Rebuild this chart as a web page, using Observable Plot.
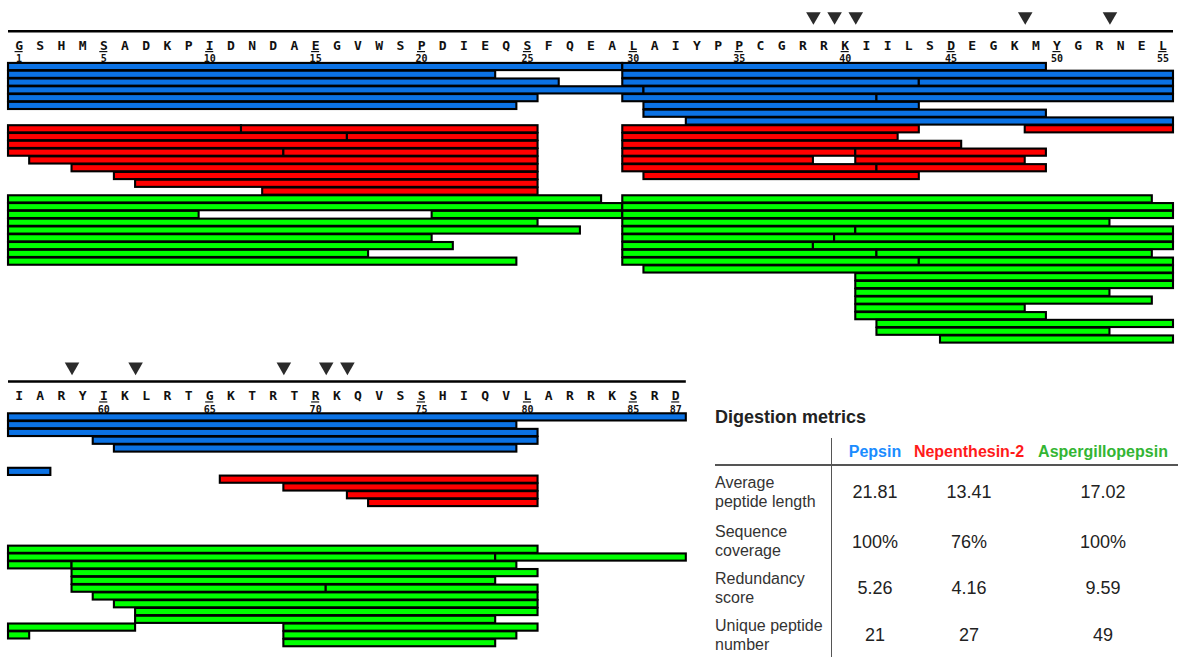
<!DOCTYPE html>
<html>
<head>
<meta charset="utf-8">
<script src="https://cdn.jsdelivr.net/npm/d3@7"></script>
<script src="https://cdn.jsdelivr.net/npm/@observablehq/plot@0.6"></script>
<style>
  body { margin: 0; background: #fff; }
  #wrap { position: relative; width: 1180px; height: 657px; overflow: hidden; background: #fff; }
  #wrap svg { position: absolute; left: 0; top: 0; }
  .t { position: absolute; font-family: "Liberation Sans", Arial, sans-serif; white-space: nowrap; }
  .c { transform: translate(-50%, -50%); }
  .l { transform: translate(0, -50%); }
  .hl { position: absolute; background: #555; }
</style>
</head>
<body>
<div id="wrap"></div>
<script>
// ---------------- data ----------------
const sequence = "GSHMSADKPIDNDAEGVWSPDIEQSFQEALAIYPPCGRRKIILSDEGKMYGRNEL" +
                 "IARYIKLRTGKTRTRKQVSSHIQVLARRKSRD";
const numberedResidues = [1, 5, 10, 15, 20, 25, 30, 35, 40, 45, 50, 55, 60, 65, 70, 75, 80, 85, 87];
const cleavageAfter = [38, 39, 40, 48, 52, 58, 61, 68, 70, 71];

const enzymes = ["Pepsin", "Nepenthesin-2", "Aspergillopepsin"];
const barColors = ["#0b72e4", "#ff0000", "#00ff00"];
const headerColors = ["#1a8cff", "#ff1a1a", "#33b533"];

// [start residue, end residue, row within enzyme block]
const pepsinPeptides = [
  [1, 29, 1], [30, 49, 1], [56, 87, 1],
  [1, 23, 2], [30, 79, 2],
  [1, 26, 3], [30, 43, 3], [44, 80, 3],
  [1, 30, 4], [31, 55, 4], [60, 80, 4],
  [1, 25, 5], [30, 41, 5], [42, 55, 5], [61, 79, 5],
  [1, 24, 6], [31, 43, 6],
  [31, 49, 7],
  [33, 57, 8]
];
const nepenthesinPeptides = [
  [1, 11, 1], [12, 25, 1], [30, 43, 1], [49, 55, 1], [66, 80, 1],
  [1, 16, 2], [17, 25, 2], [30, 42, 2], [69, 80, 2],
  [1, 25, 3], [30, 45, 3], [72, 80, 3],
  [1, 13, 4], [14, 25, 4], [30, 40, 4], [41, 49, 4], [73, 80, 4],
  [2, 25, 5], [30, 38, 5], [41, 48, 5],
  [4, 25, 6], [30, 41, 6], [42, 49, 6],
  [6, 25, 7], [31, 43, 7],
  [7, 25, 8],
  [13, 25, 9]
];
const aspergillopepsinPeptides = [
  [1, 28, 1], [30, 54, 1], [56, 80, 1],
  [1, 29, 2], [30, 78, 2], [79, 87, 2],
  [1, 9, 3], [21, 29, 3], [30, 58, 3], [59, 79, 3],
  [1, 25, 4], [30, 52, 4], [59, 80, 4],
  [1, 27, 5], [30, 40, 5], [41, 55, 5], [59, 78, 5],
  [1, 20, 6], [30, 39, 6], [40, 55, 6], [59, 70, 6], [71, 80, 6],
  [1, 21, 7], [30, 38, 7], [39, 55, 7], [60, 80, 7],
  [1, 17, 8], [30, 41, 8], [42, 54, 8], [61, 80, 8],
  [1, 24, 9], [30, 43, 9], [44, 55, 9], [62, 80, 9],
  [31, 55, 10], [62, 78, 10],
  [41, 61, 11], [69, 80, 11],
  [41, 56, 12], [69, 79, 12],
  [41, 52, 13], [69, 78, 13],
  [41, 54, 14],
  [41, 48, 15],
  [41, 49, 16],
  [42, 55, 17],
  [42, 52, 18],
  [45, 55, 19]
];
const blockRows = [8, 9, 19];

const metricLabels = [["Average", "peptide length"], ["Sequence", "coverage"], ["Redundancy", "score"], ["Unique peptide", "number"]];
const pepsinMetrics = ["21.81", "100%", "5.26", "21"];
const nepenthesinMetrics = ["13.41", "76%", "4.16", "27"];
const aspergillopepsinMetrics = ["17.02", "100%", "9.59", "49"];

// ---------------- layout ----------------
const RES_PER_LINE = 55;
const LINE_ROWS = 45;          // rows between the two sequence lines
const ROW_TRI = -5.5, ROW_RULE = -3.6, ROW_LETTER = -1.72, ROW_UNDER = -0.98, ROW_NUM = 0.0;

const allPeptides = [pepsinPeptides, nepenthesinPeptides, aspergillopepsinPeptides];
const blockStart = [0, blockRows[0], blockRows[0] + blockRows[1]];

const segments = [];
enzymes.forEach((enz, k) => {
  allPeptides[k].forEach(([s, e, row]) => {
    const g = blockStart[k] + row;
    if (s <= RES_PER_LINE) segments.push({enzyme: enz, x1: s - 1, x2: Math.min(e, RES_PER_LINE), y: g});
    if (e > RES_PER_LINE) segments.push({enzyme: enz, x1: Math.max(s, RES_PER_LINE + 1) - RES_PER_LINE - 1, x2: e - RES_PER_LINE, y: g + LINE_ROWS});
  });
});

const residues = Array.from(sequence, (aa, i) => {
  const n = i + 1, line = n <= RES_PER_LINE ? 0 : 1;
  return {aa, n, line, pos: n - line * RES_PER_LINE};
});
const numbered = residues.filter(d => numberedResidues.includes(d.n));
const sites = cleavageAfter.map(c => {
  const line = c <= RES_PER_LINE ? 0 : 1;
  return {line, pos: c - line * RES_PER_LINE};
});
const lines = [{line: 0, len: RES_PER_LINE}, {line: 1, len: sequence.length - RES_PER_LINE}];

const mono = "DejaVu Sans Mono";
const plot = Plot.plot({
  width: 1180, height: 657,
  margin: 0,
  x: {domain: [0, 55], range: [8, 1173], axis: null},
  y: {domain: [-7.541, 76.84], range: [0, 657], axis: null},
  color: {domain: enzymes, range: barColors},
  style: {background: "#fff"},
  marks: [
    Plot.ruleY(lines, {y: d => ROW_RULE + d.line * LINE_ROWS, x1: 0, x2: d => d.len, stroke: "#000", strokeWidth: 2.6}),
    Plot.dot(sites, {x: "pos", y: d => ROW_TRI + d.line * LINE_ROWS, symbol: "triangle", rotate: 180, r: 5.4, fill: "#2b2b2b", stroke: "none"}),
    Plot.text(residues, {x: d => d.pos - 0.5, y: d => ROW_LETTER + d.line * LINE_ROWS, text: "aa",
      fontFamily: mono, fontWeight: "bold", fontSize: 13, fill: "#111"}),
    Plot.ruleY(numbered, {y: d => ROW_UNDER + d.line * LINE_ROWS, x1: d => d.pos - 0.69, x2: d => d.pos - 0.31, stroke: "#111", strokeWidth: 1.2}),
    Plot.text(numbered, {x: d => d.pos - 0.5, y: d => ROW_NUM + d.line * LINE_ROWS, text: d => String(d.n),
      fontFamily: mono, fontWeight: "bold", fontSize: 10, fill: "#111"}),
    Plot.rect(segments, {x1: "x1", x2: "x2", y1: d => d.y - 0.46, y2: d => d.y + 0.46, fill: "enzyme", stroke: "#000", strokeWidth: 2.1})
  ]
});

const wrap = document.getElementById("wrap");
wrap.appendChild(plot);

// ---------------- metrics table (HTML) ----------------
function addText(txt, x, y, cls, style) {
  const d = document.createElement("div");
  d.className = "t " + cls;
  d.textContent = txt;
  d.style.left = x + "px";
  d.style.top = y + "px";
  Object.assign(d.style, style || {});
  wrap.appendChild(d);
  return d;
}
function addLine(x, y, w, h) {
  const d = document.createElement("div");
  d.className = "hl";
  Object.assign(d.style, {left: x + "px", top: y + "px", width: w + "px", height: h + "px"});
  wrap.appendChild(d);
}
const colX = [875, 969, 1103];
const rowY = [492, 541.5, 588, 635];
const allMetrics = [pepsinMetrics, nepenthesinMetrics, aspergillopepsinMetrics];

addText("Digestion metrics", 715, 416.5, "l", {fontSize: "18px", fontWeight: "bold", color: "#222"});
addLine(831, 438, 1.4, 219);
addLine(715, 464.3, 463, 1.5);
enzymes.forEach((enz, k) => {
  addText(enz, colX[k], 452.3, "c", {fontSize: "16px", fontWeight: "bold", color: headerColors[k]});
  allMetrics[k].forEach((v, r) => addText(v, colX[k], rowY[r], "c", {fontSize: "18px", color: "#222"}));
});
metricLabels.forEach((lab, r) => {
  addText(lab[0], 715, rowY[r] - 9.5, "l", {fontSize: "16px", color: "#333"});
  addText(lab[1], 715, rowY[r] + 9.5, "l", {fontSize: "16px", color: "#333"});
});
</script>
</body>
</html>
